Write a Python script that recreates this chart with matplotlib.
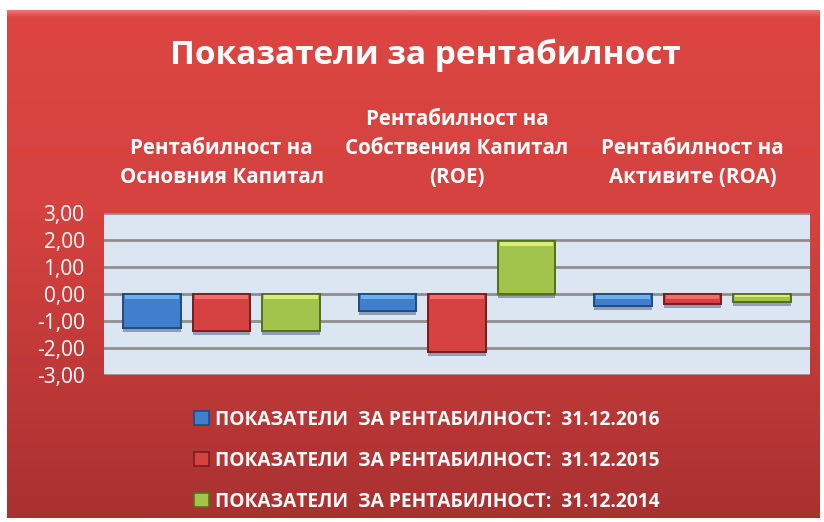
import numpy as np
import matplotlib
matplotlib.use("Agg")
import matplotlib.pyplot as plt
from matplotlib.colors import LinearSegmentedColormap
from matplotlib.patches import Patch
from matplotlib import patheffects as pe

# ---- data ----
categories = ["Рентабилност на\nОсновния Капитал",
              "Рентабилност на\nСобствения Капитал\n(ROE)",
              "Рентабилност на\nАктивите (ROA)"]
series_labels = ["ПОКАЗАТЕЛИ  ЗА РЕНТАБИЛНОСТ:  31.12.2016",
                 "ПОКАЗАТЕЛИ  ЗА РЕНТАБИЛНОСТ:  31.12.2015",
                 "ПОКАЗАТЕЛИ  ЗА РЕНТАБИЛНОСТ:  31.12.2014"]
values_2016 = [-1.25, -0.62, -0.45]
values_2015 = [-1.36, -2.15, -0.38]
values_2014 = [-1.36, 1.97, -0.28]
yticks = [-3, -2, -1, 0, 1, 2, 3]
title = "Показатели за рентабилност"

plt.rcParams['font.family'] = ['Open Sans', 'DejaVu Sans']

W, H = 824, 522
fig = plt.figure(figsize=(W / 100, H / 100), dpi=100)
fig.patch.set_facecolor("white")

# background panel with vertical gradient
bg = fig.add_axes([7 / W, 4 / H, 813 / W, 508 / H])
bg.set_axis_off()
g = np.linspace(0, 1, 256).reshape(-1, 1)
bg.imshow(g, aspect="auto", cmap=LinearSegmentedColormap.from_list(
    "bg2", [(0, "#f07070"), (0.012, "#dc4542"), (0.4, "#d5423f"), (1, "#aa3131")]),
    extent=[0, 1, 0, 1], origin="upper")
bg.set_xlim(0, 1)
bg.set_ylim(0, 1)

# plot area
ax = fig.add_axes([104 / W, 1 - 375 / H, 706 / W, 162 / H])
ax.set_facecolor("#dce6f2")
for s in ax.spines.values():
    s.set_visible(False)
unit_per_px = 6.0 / 162

x = np.arange(len(categories))
width = 0.245
offset = 0.295
colors = [
    ("#7cc0f8", "#3f7fcc", "#1f4c85"),
    ("#ff7a7a", "#d64242", "#7a1e1e"),
    ("#ecfb86", "#a2c44c", "#55711e"),
]
shadow = [pe.SimplePatchShadow(offset=(0, -3), shadow_rgbFace="#506080", alpha=0.55), pe.Normal()]
all_vals = [values_2016, values_2015, values_2014]
handles = []
for i, (vals, col, lab) in enumerate(zip(all_vals, colors, series_labels)):
    xs = x + (i - 1) * offset
    ax.bar(xs, vals, width=width, color=col[1], edgecolor=col[2],
           linewidth=1.3, zorder=3, path_effects=shadow)
    # bevel highlight strip at the top edge of each bar
    tops = [max(v, 0) for v in vals]
    strip = [min(5 * unit_per_px, 0.45 * abs(v)) for v in vals]
    ax.bar(xs, strip, bottom=[t - s for t, s in zip(tops, strip)], width=width * 0.93,
           color=col[0], linewidth=0, alpha=0.75, zorder=3.5)
    ax.bar(xs, vals, width=width, facecolor="none", edgecolor=col[2],
           linewidth=1.3, zorder=4)
    handles.append(Patch(facecolor=col[1], edgecolor=col[2], linewidth=1.2, label=lab))

ax.set_xlim(-0.5, 2.5)
ax.set_ylim(-3, 3)
ax.set_yticks(yticks)
ax.set_yticklabels([f"{v:.2f}".replace(".", ",") for v in yticks])
ax.yaxis.grid(True, color="#8e8e8e", linewidth=2, zorder=1)
ax.set_axisbelow(True)
ax.tick_params(axis="y", length=0, pad=14, labelsize=15, labelcolor="white")

# category labels on top (high axis)
ax.xaxis.tick_top()
ax.set_xticks(x)
ax.set_xticklabels(categories, fontsize=14.8, fontweight="bold", color="white",
                   linespacing=1.5)
ax.tick_params(axis="x", length=0, pad=18)

# title
fig.text(425 / W, 1 - 55 / H, title, ha="center", va="center",
         fontsize=24, fontweight="bold", color="white")

# legend
leg = fig.legend(handles=handles, loc="center", bbox_to_anchor=(427 / W, 1 - 461 / H),
                 ncol=1, frameon=False, labelspacing=1.1,
                 prop={"size": 13.8, "weight": "bold"},
                 handlelength=0.75, handleheight=0.75, handletextpad=0.35)
for t in leg.get_texts():
    t.set_color("white")

fig.savefig("out.png", dpi=100, facecolor=fig.get_facecolor())
